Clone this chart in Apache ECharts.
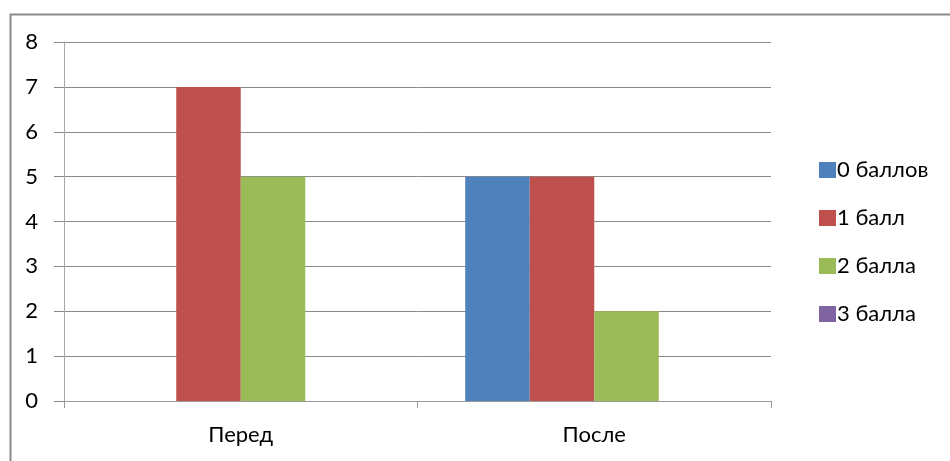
<!DOCTYPE html>
<html>
<head>
<meta charset="utf-8">
<script src="https://cdn.jsdelivr.net/npm/echarts@6/dist/echarts.min.js"></script>
<style>
  html, body { margin: 0; padding: 0; background: #fff; }
  #chart { width: 950px; height: 461px; }
</style>
</head>
<body>
<div id="chart"></div>
<script>
// Categories and series values
const categories = ['Перед', 'После'];
const seriesNames = ['0 баллов', '1 балл', '2 балла', '3 балла'];
const score0 = [0, 5];
const score1 = [7, 5];
const score2 = [5, 2];
const score3 = [0, 0];
const yTicks = [0, 1, 2, 3, 4, 5, 6, 7, 8];

const colors = ['#4F81BD', '#C0504D', '#9BBB59', '#8064A2'];
const values = [score0, score1, score2, score3];
const FONT = 'Lato, "Open Sans", sans-serif';

const chart = echarts.init(document.getElementById('chart'), null, { renderer: 'canvas' });

chart.setOption({
  animation: false,
  backgroundColor: '#ffffff',
  color: colors,
  graphic: [{
    type: 'rect',
    left: 8, top: 12,
    shape: { x: 0, y: 0, width: 1000, height: 520 },
    style: { fill: 'none', stroke: '#8a8a8a', lineWidth: 2 },
    silent: true
  }],
  grid: { left: 64, right: 179, top: 42, bottom: 60, containLabel: false },
  legend: {
    orient: 'vertical',
    left: 814,
    top: 154,
    itemWidth: 17,
    itemHeight: 16,
    itemGap: 26,
    icon: 'rect',
    data: seriesNames,
    textStyle: { fontFamily: FONT, fontSize: 22, lineHeight: 22, color: '#000', padding: [0, 0, 0, -4] }
  },
  xAxis: {
    type: 'category',
    data: categories,
    axisLine: { lineStyle: { color: '#9a9a9a', width: 1 } },
    axisTick: { show: true, length: 7, lineStyle: { color: '#9a9a9a' } },
    axisLabel: { fontFamily: FONT, fontSize: 22, color: '#000', margin: 23 }
  },
  yAxis: {
    type: 'value',
    min: yTicks[0],
    max: yTicks[yTicks.length - 1],
    interval: 1,
    axisLine: { show: true, lineStyle: { color: '#a8a8a8', width: 1 } },
    axisTick: { show: true, length: 10, lineStyle: { color: '#8a8a8a' } },
    splitLine: { show: true, lineStyle: { color: '#8a8a8a', width: 1 } },
    axisLabel: { fontFamily: FONT, fontSize: 22, color: '#000', margin: 26 }
  },
  series: seriesNames.map((name, i) => ({
    name: name,
    type: 'bar',
    data: values[i],
    barGap: '0%',
    barCategoryGap: '27%',
    itemStyle: { color: colors[i] }
  }))
});
</script>
</body>
</html>
